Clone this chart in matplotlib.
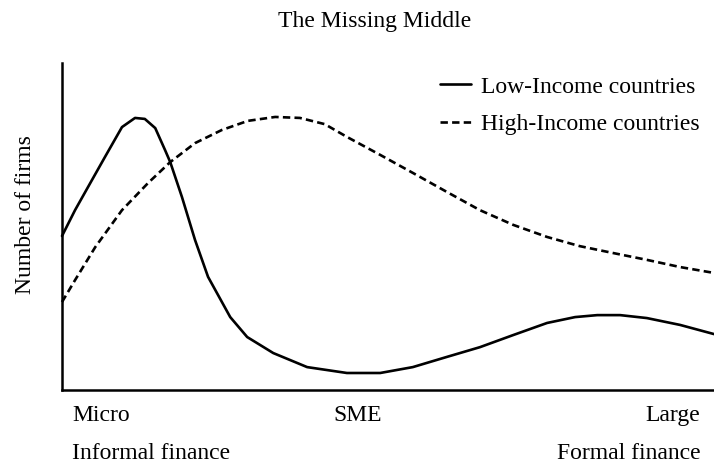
#!/usr/bin/env python3
"""The Missing Middle - firm size distribution sketch, low vs high income countries."""

import matplotlib
matplotlib.use("Agg")
import matplotlib.pyplot as plt

# firm size axis runs 0 (micro) .. 1 (large), y is relative number of firms
LOW_X = [0.0, 0.020, 0.040, 0.066, 0.092, 0.112, 0.127, 0.143, 0.158, 0.166,
         0.184, 0.204, 0.224, 0.258, 0.284, 0.324, 0.376, 0.437, 0.488, 0.538,
         0.590, 0.641, 0.692, 0.744, 0.787, 0.821, 0.856, 0.897, 0.948, 1.0]
LOW_Y = [0.471, 0.550, 0.621, 0.713, 0.804, 0.832, 0.829, 0.801, 0.734, 0.697,
         0.590, 0.459, 0.346, 0.223, 0.162, 0.113, 0.070, 0.052, 0.052, 0.070,
         0.101, 0.131, 0.168, 0.205, 0.223, 0.229, 0.229, 0.220, 0.199, 0.171]

HIGH_X = [0.0, 0.020, 0.051, 0.092, 0.132, 0.166, 0.204, 0.245, 0.285, 0.327,
          0.365, 0.403, 0.437, 0.488, 0.538, 0.590, 0.641, 0.692, 0.744, 0.794,
          0.845, 0.897, 0.948, 1.0]
HIGH_Y = [0.269, 0.336, 0.437, 0.550, 0.633, 0.697, 0.755, 0.795, 0.823, 0.835,
          0.832, 0.813, 0.774, 0.719, 0.664, 0.606, 0.550, 0.505, 0.468, 0.440,
          0.419, 0.398, 0.376, 0.358]

SERIES_NAMES = ["Low-Income countries", "High-Income countries"]
SIZE_LABELS = ["Micro", "SME", "Large"]
SIZE_POS = [0.016, 0.454, 0.979]
FINANCE_LABELS = ["Informal finance", "Formal finance"]
FINANCE_POS = [0.016, 0.979]

FONT = ["Liberation Serif", "DejaVu Serif"]
W, H = 714, 465

plt.rcParams["font.family"] = FONT

fig = plt.figure(figsize=(W / 100, H / 100), dpi=100)
ax = fig.add_axes([62 / W, (H - 390) / H, 652 / W, 327 / H])

ax.plot(LOW_X, LOW_Y, color="black", linewidth=1.9, solid_joinstyle="round",
        solid_capstyle="round", label=SERIES_NAMES[0], clip_on=False)
ax.plot(HIGH_X, HIGH_Y, color="black", linewidth=1.9, linestyle=(0, (2.8, 1.6)),
        label=SERIES_NAMES[1], clip_on=False)

ax.set_xlim(0, 1)
ax.set_ylim(0, 1)
ax.set_xticks([])
ax.set_yticks([])
for side in ["top", "right"]:
    ax.spines[side].set_visible(False)
for side in ["left", "bottom"]:
    ax.spines[side].set_linewidth(1.8)

ax.set_ylabel("Number of firms", fontsize=17)
ax.yaxis.set_label_coords(-0.040, 0.535)

for lab, pos, ha in zip(SIZE_LABELS, SIZE_POS, ["left", "center", "right"]):
    ax.text(pos, -0.078, lab, transform=ax.transAxes, ha=ha, va="center", fontsize=17)
for lab, pos, ha in zip(FINANCE_LABELS, FINANCE_POS, ["left", "right"]):
    ax.text(pos, -0.193, lab, transform=ax.transAxes, ha=ha, va="center", fontsize=17)

fig.text(375 / W, 1 - 27 / H, "The Missing Middle", ha="center", va="baseline",
         fontsize=17)

ax.legend(loc="upper left", bbox_to_anchor=(440 / W, 1 - 76 / H),
          bbox_transform=fig.transFigure, frameon=False, fontsize=17,
          handlelength=1.3, handletextpad=0.45, borderpad=0, borderaxespad=0,
          labelspacing=0.68)

fig.savefig("out.png", dpi=100)
